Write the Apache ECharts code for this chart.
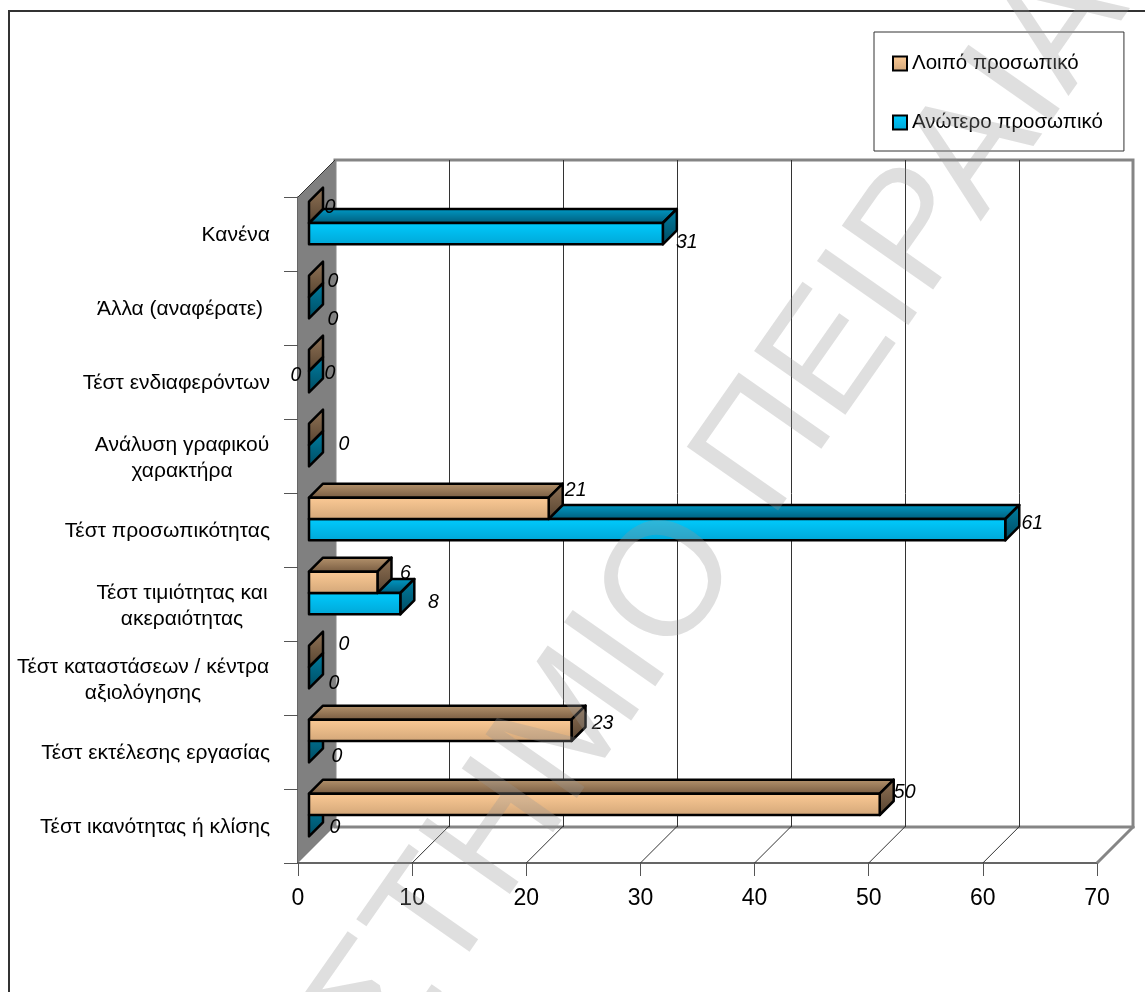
<!DOCTYPE html>
<html>
<head>
<meta charset="utf-8">
<style>html,body{margin:0;padding:0;background:#fff}#chart{width:1145px;height:992px}</style>
<script src="https://cdn.jsdelivr.net/npm/echarts@6/dist/echarts.min.js"></script>
</head>
<body>
<div id="chart"></div>
<script>
// Survey results: selection tests used, by staff group (first entry sits at the bottom of the axis)
const categories = [
  'Τέστ ικανότητας ή κλίσης',
  'Τέστ εκτέλεσης εργασίας',
  'Τέστ καταστάσεων / κέντρα\nαξιολόγησης',
  'Τέστ τιμιότητας και\nακεραιότητας',
  'Τέστ προσωπικότητας',
  'Ανάλυση γραφικού\nχαρακτήρα',
  'Τέστ ενδιαφερόντων',
  'Άλλα (αναφέρατε)',
  'Κανένα'
];
const otherStaff = [50, 23, 0, 6, 21, 0, 0, 0, 0];
const seniorStaff = [0, 0, 0, 8, 61, 0, 0, 0, 31];
const valueTicks = [0, 10, 20, 30, 40, 50, 60, 70];
const otherName = 'Λοιπό προσωπικό';
const seniorName = 'Ανώτερο προσωπικό';

// Where each value label sits relative to its bar's axis point
const otherLabelShift = [[36,-33],[42,-28],[46,-33],[39,-30],[38,-39],[46,-11],[-2,-6],[35,-26],[32,-26]];
const seniorLabelShift = [[37,2],[39,5],[36,6],[44,-1],[38,-6],null,[32,-8],[35,12],[35,9]];

// Pseudo-3D geometry
const WALL_DEPTH = 37;
const BAR_SHIFT = 11;
const BAR_DEPTH = 14;
const BAR_RATIO = 0.288;
const FONT = '"Liberation Sans", Arial, sans-serif';

const vgrad = (a, b) => ({type: 'linear', x: 0, y: 0, x2: 0, y2: 1,
  colorStops: [{offset: 0, color: a}, {offset: 1, color: b}]});

const paletteOther = {
  front: vgrad('#fdcb96', '#d2a678'),
  top: vgrad('#b8966f', '#75593f'),
  side: vgrad('#927457', '#54412e')
};
const paletteSenior = {
  front: vgrad('#00ccff', '#00a6d6'),
  top: vgrad('#009cc8', '#005a78'),
  side: vgrad('#007fa3', '#004a60')
};

function poly(points, fill) {
  return {type: 'polygon', shape: {points},
    style: {fill, stroke: '#000', lineWidth: 2.5, lineJoin: 'round'}};
}

// Draws one box: front, top and side faces, plus its value label
function boxRenderer(palette, upper, shifts) {
  return function (params, api) {
    const value = api.value(0), cat = api.value(1);
    const start = api.coord([0, cat]);
    const tip = api.coord([value, cat]);
    const h = api.size([0, 1])[1] * BAR_RATIO;
    const x0 = start[0] + BAR_SHIFT, x1 = tip[0] + BAR_SHIFT;
    const mid = start[1] - BAR_SHIFT;
    const y0 = upper ? mid - h : mid, y1 = y0 + h;
    const d = BAR_DEPTH;
    const children = [];
    if (value > 0) {
      children.push(poly([[x0, y0], [x0 + d, y0 - d], [x1 + d, y0 - d], [x1, y0]], palette.top));
    }
    children.push(poly([[x1, y0], [x1 + d, y0 - d], [x1 + d, y1 - d], [x1, y1]], palette.side));
    if (value > 0) {
      children.push(poly([[x0, y0], [x1, y0], [x1, y1], [x0, y1]], palette.front));
    }
    const shift = shifts[params.dataIndex];
    if (shift) {
      children.push({type: 'text', z2: 50, style: {
        x: tip[0] + shift[0], y: tip[1] + shift[1], text: String(value),
        fill: '#000', font: 'italic 19.5px ' + FONT, align: 'center', verticalAlign: 'middle'
      }});
    }
    return {type: 'group', children};
  };
}

// Side wall and floor of the box behind the plot
function frameRenderer(params, api) {
  const tick = api.value(0);
  const cs = params.coordSys;
  const floorY = cs.y + cs.height;
  const x = api.coord([tick, 0])[0];
  const children = [];
  if (tick === valueTicks[0]) {
    children.push({type: 'polygon', shape: {points: [
      [x, cs.y], [x + WALL_DEPTH, cs.y - WALL_DEPTH],
      [x + WALL_DEPTH, floorY - WALL_DEPTH], [x, floorY]]},
      style: {fill: '#808080'}});
    children.push({type: 'line', shape: {x1: x, y1: cs.y, x2: x + WALL_DEPTH, y2: cs.y - WALL_DEPTH},
      style: {stroke: '#333', lineWidth: 1}});
  } else {
    const last = tick === valueTicks[valueTicks.length - 1];
    children.push({type: 'line', shape: {x1: x, y1: floorY, x2: x + WALL_DEPTH, y2: floorY - WALL_DEPTH},
      style: {stroke: last ? '#858585' : '#333', lineWidth: last ? 3 : 1}});
  }
  return {type: 'group', children};
}

// Category label styles: two-line labels are centred within their own block
const labelBase = {fontSize: 21, lineHeight: 26, color: '#000', fontFamily: FONT};
const labelRich = {
  one: {...labelBase, padding: [2, 0, 0, 0]},
  note: {...labelBase, width: 180, align: 'center', padding: [2, 0, 0, 0]},
  wide: {...labelBase, width: 254, align: 'center', padding: [5, 0, 0, 0]},
  side: {...labelBase, width: 176, align: 'center', padding: [5, 0, 0, 0]}
};

function categoryLabel(text) {
  const lines = text.split('\n');
  if (lines.length === 1) {
    return '{' + (text.startsWith('Άλλα') ? 'note' : 'one') + '|' + text + '}';
  }
  const key = lines[0].length > 22 ? 'wide' : 'side';
  return lines.map(line => '{' + key + '|' + line + '}').join('\n');
}

const chart = echarts.init(document.getElementById('chart'), null, {renderer: 'canvas'});
chart.setOption({
  animation: false,
  backgroundColor: '#fff',
  textStyle: {fontFamily: FONT},
  graphic: {elements: [
    {type: 'rect', z: 0, shape: {x: 9, y: 11, width: 1300, height: 1300},
      style: {fill: 'none', stroke: '#333', lineWidth: 2}},
    // Translucent diagonal stamp lying across the whole page
    {type: 'text', z: 100, x: 547, y: 763, rotation: 55 * Math.PI / 180, silent: true,
      style: {text: 'ΠΑΝΕΠΙΣΤΗΜΙΟ ΠΕΙΡΑΙΑ', font: '162px ' + FONT, fill: 'rgba(150,150,150,0.3)',
        align: 'center', verticalAlign: 'middle'}}
  ]},
  legend: {
    show: true, orient: 'vertical', left: 874, top: 32, z: 1,
    padding: [21, 21, 18, 18], itemWidth: 14, itemHeight: 14, itemGap: 38,
    borderColor: '#333', borderWidth: 1, icon: 'rect',
    textStyle: {fontSize: 20.5, lineHeight: 20, color: '#000', fontFamily: FONT},
    data: [otherName, seniorName]
  },
  grid: [
    {left: 298, right: 48, top: 197, bottom: 129, containLabel: false},
    {left: 335, right: 12, top: 160, bottom: 165, show: true, borderColor: '#858585', borderWidth: 3, backgroundColor: 'transparent'}
  ],
  xAxis: [
    {type: 'value', gridIndex: 0, min: 0, max: 70, interval: 10, z: 1,
      axisLine: {show: true, onZero: false, lineStyle: {color: '#333', width: 1.5}},
      axisTick: {show: true, length: 13, lineStyle: {color: '#555', width: 1}},
      axisLabel: {fontSize: 23, color: '#000', margin: 24, fontFamily: FONT},
      splitLine: {show: false}},
    {type: 'value', gridIndex: 1, min: 0, max: 70, interval: 10, z: 1,
      axisLine: {show: false}, axisTick: {show: false}, axisLabel: {show: false},
      splitLine: {show: true, showMinLine: false, showMaxLine: false, lineStyle: {color: '#333', width: 1}}}
  ],
  yAxis: [
    {type: 'category', gridIndex: 0, data: categories, z: 1,
      axisLine: {show: true, lineStyle: {color: '#333', width: 1.5}},
      axisTick: {show: true, length: 14, alignWithLabel: false, lineStyle: {color: '#555', width: 1}},
      axisLabel: {
        interval: 0, margin: 28, color: '#000', fontSize: 21, lineHeight: 26, fontFamily: FONT, align: 'right',
        formatter: categoryLabel, rich: labelRich
      },
      splitLine: {show: false}},
    {type: 'value', gridIndex: 1, min: 0, max: 1, show: false, splitLine: {show: false}}
  ],
  series: [
    {type: 'custom', name: 'frame', xAxisIndex: 0, yAxisIndex: 0, z: 3, silent: true,
      data: valueTicks.map(t => [t, 0]), encode: {x: 0, y: 1}, renderItem: frameRenderer},
    {type: 'custom', name: seniorName, xAxisIndex: 0, yAxisIndex: 0, z: 10,
      itemStyle: {color: paletteSenior.front, borderColor: '#000', borderWidth: 2.5},
      data: seniorStaff.map((v, i) => [v, i]), encode: {x: 0, y: 1},
      renderItem: boxRenderer(paletteSenior, false, seniorLabelShift)},
    {type: 'custom', name: otherName, xAxisIndex: 0, yAxisIndex: 0, z: 11,
      itemStyle: {color: paletteOther.front, borderColor: '#000', borderWidth: 2.5},
      data: otherStaff.map((v, i) => [v, i]), encode: {x: 0, y: 1},
      renderItem: boxRenderer(paletteOther, true, otherLabelShift)}
  ]
});
</script>
</body>
</html>
